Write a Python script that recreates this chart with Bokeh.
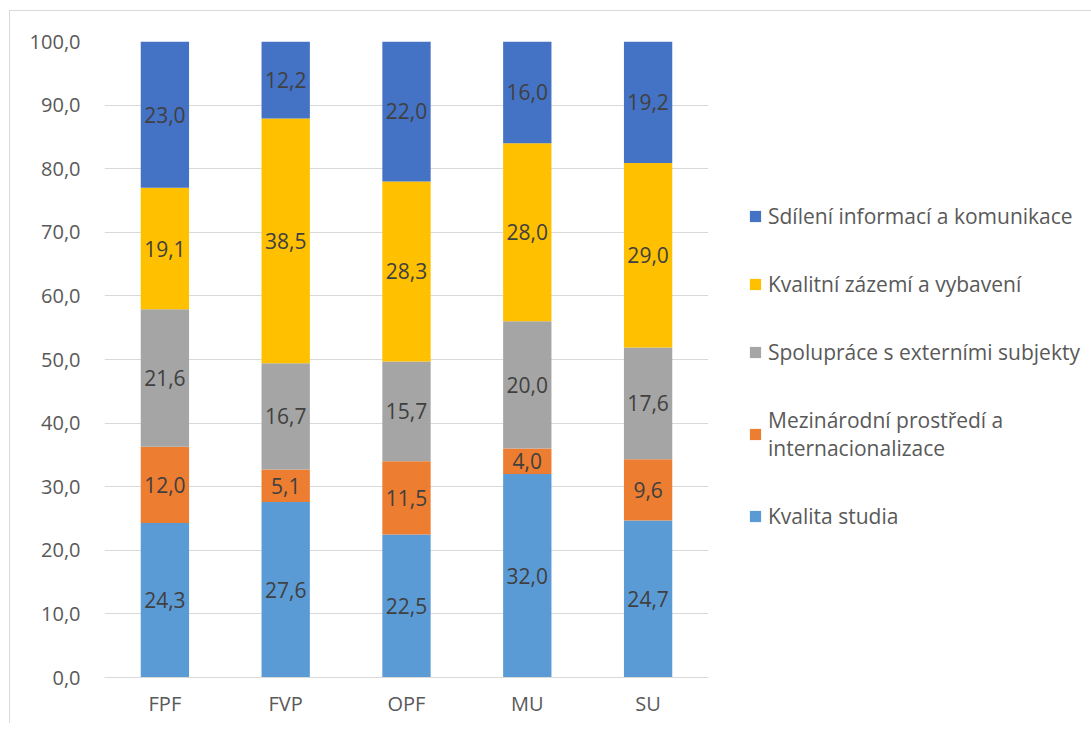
from bokeh.plotting import figure
from bokeh.models import (ColumnDataSource, FactorRange, Range1d, FixedTicker,
                          CustomJSTickFormatter, Legend, LegendItem)
from bokeh.core.properties import value
from bokeh.embed import file_html
from bokeh.resources import INLINE

categories = ["FPF", "FVP", "OPF", "MU", "SU"]
series_names = ["Kvalita studia", "Mezinárodní prostředí a\ninternacionalizace",
                "Spolupráce s externími subjekty", "Kvalitní zázemí a vybavení",
                "Sdílení informací a komunikace"]
kvalita_studia = [24.3, 27.6, 22.5, 32.0, 24.7]
mezinarodni = [12.0, 5.1, 11.5, 4.0, 9.6]
spoluprace = [21.6, 16.7, 15.7, 20.0, 17.6]
zazemi = [19.1, 38.5, 28.3, 28.0, 29.0]
sdileni = [23.0, 12.2, 22.0, 16.0, 19.2]
y_ticks = [0, 10, 20, 30, 40, 50, 60, 70, 80, 90, 100]

colors = ["#5B9BD5", "#ED7D31", "#A5A5A5", "#FFC000", "#4472C4"]
keys = ["s0", "s1", "s2", "s3", "s4"]
series = [kvalita_studia, mezinarodni, spoluprace, zazemi, sdileni]

FONT = "Open Sans"

src = ColumnDataSource(dict(x=categories, **{k: v for k, v in zip(keys, series)}))

p = figure(x_range=FactorRange(factors=categories, range_padding=0),
           y_range=Range1d(0, 100),
           frame_width=604, frame_height=636,
           min_border_left=94, min_border_right=10,
           min_border_top=30, min_border_bottom=46,
           output_backend="svg", toolbar_location=None,
           styles={"border-left": "1px solid #d9d9d9", "border-top": "1px solid #d9d9d9",
                   "margin-left": "9px", "margin-top": "10px"})
p.outline_line_color = None

renderers = p.vbar_stack(keys, x="x", width=0.4, color=colors, source=src, line_width=0)

# data labels
lx, ly, lt = [], [], []
for ci, c in enumerate(categories):
    base = 0.0
    for s in series:
        v = s[ci]
        lx.append(c)
        ly.append(base + v / 2)
        lt.append(f"{v:.1f}".replace(".", ","))
        base += v
p.text(x=lx, y=ly, text=lt, text_align="center", text_baseline="middle",
       text_font=value(FONT), text_font_size="21px", text_color="#404040")

# axes
p.yaxis.ticker = FixedTicker(ticks=y_ticks)
p.yaxis.formatter = CustomJSTickFormatter(code="return tick.toFixed(1).replace('.', ',');")
p.yaxis.axis_line_color = None
p.yaxis.major_tick_line_color = None
p.yaxis.minor_tick_line_color = None
p.yaxis.major_tick_out = 0
p.yaxis.major_label_standoff = 24
p.xaxis.axis_line_color = "#d9d9d9"
p.xaxis.major_tick_line_color = None
p.xaxis.major_tick_out = 0
p.xaxis.major_label_standoff = 12
for ax in (p.xaxis, p.yaxis):
    ax.major_label_text_font = FONT
    ax.major_label_text_font_size = "20px"
    ax.major_label_text_color = "#595959"
p.xgrid.grid_line_color = None
p.ygrid.grid_line_color = "#d9d9d9"
p.ygrid.grid_line_width = 1

items = [LegendItem(label=series_names[i], renderers=[renderers[i]]) for i in range(4, -1, -1)]
legend = Legend(items=items, location=(40, 147), orientation="vertical",
                padding=0, margin=0, spacing=40,
                glyph_width=14, glyph_height=14, label_standoff=6,
                label_text_font=FONT, label_text_font_size="21px",
                label_text_color="#595959",
                border_line_color=None, background_fill_alpha=0)
p.add_layout(legend, "right")

open("out.html", "w").write(file_html(p, INLINE))
